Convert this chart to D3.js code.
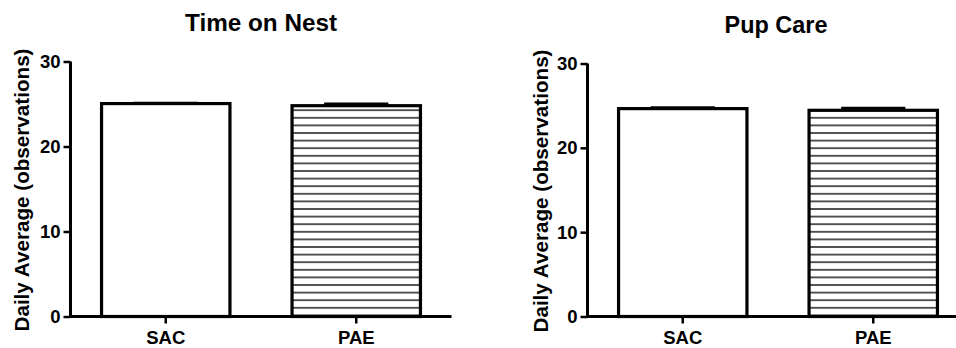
<!DOCTYPE html>
<html>
<head>
<meta charset="utf-8">
<script src="https://cdn.jsdelivr.net/npm/d3@7"></script>
<style>
  body { margin: 0; background: #fff; }
  text { font-family: "Liberation Sans", Arial, Helvetica, sans-serif; font-weight: bold; fill: #000; }
</style>
</head>
<body>
<div id="chart"></div>
<script>
// data
const groups = ["SAC", "PAE"];
const panelTitles = ["Time on Nest", "Pup Care"];
const nestMean = [25.05, 24.8];
const nestSem = [0.05, 0.2];
const careMean = [24.65, 24.45];
const careSem = [0.1, 0.25];
const yTicks = [0, 10, 20, 30];
const yLabel = "Daily Average (observations)";

const W = 956, H = 348;

const svg = d3.select("#chart")
  .append("svg")
  .attr("width", W)
  .attr("height", H);

// horizontal hatch for the PAE bars
const defs = svg.append("defs");
defs.append("pattern")
  .attr("id", "hatch")
  .attr("patternUnits", "userSpaceOnUse")
  .attr("width", 10)
  .attr("height", 7.6)
  .append("line")
  .attr("x1", 0).attr("x2", 10)
  .attr("y1", 3.8).attr("y2", 3.8)
  .attr("stroke", "#444")
  .attr("stroke-width", 1.8);

const panels = [
  { title: panelTitles[0], mean: nestMean, sem: nestSem, x0: 70.5, yTop: 61.5, yBot: 316.5, titleX: 261, titleY: 31, titleW: 152, labelX: 29 },
  { title: panelTitles[1], mean: careMean, sem: careSem, x0: 587.5, yTop: 63.5, yBot: 316.5, titleX: 776, titleY: 33, titleW: 103, labelX: 548 }
];

panels.forEach((p) => {
  const g = svg.append("g");

  const x = d3.scaleBand()
    .domain(groups)
    .range([p.x0, p.x0 + 381])
    .paddingInner(0.326)
    .paddingOuter(0.163);

  const y = d3.scaleLinear().domain([0, 30]).range([p.yBot, p.yTop]);

  // bars
  g.selectAll(".bar")
    .data(groups)
    .enter()
    .append("rect")
    .attr("class", "bar")
    .attr("x", (d) => x(d))
    .attr("y", (d, i) => y(p.mean[i]))
    .attr("width", x.bandwidth())
    .attr("height", (d, i) => p.yBot - y(p.mean[i]))
    .attr("fill", (d, i) => (i === 1 ? "url(#hatch)" : "#fff"))
    .attr("stroke", "#000")
    .attr("stroke-width", 3.2);

  // error bars (upper only)
  const eb = g.selectAll(".err")
    .data(groups)
    .enter()
    .append("g")
    .attr("class", "err");
  eb.append("line")
    .attr("x1", (d) => x(d) + x.bandwidth() / 2)
    .attr("x2", (d) => x(d) + x.bandwidth() / 2)
    .attr("y1", (d, i) => y(p.mean[i]))
    .attr("y2", (d, i) => y(p.mean[i] + p.sem[i]))
    .attr("stroke", "#000")
    .attr("stroke-width", 3);
  eb.append("line")
    .attr("x1", (d) => x(d) + x.bandwidth() / 4)
    .attr("x2", (d) => x(d) + x.bandwidth() * 3 / 4)
    .attr("y1", (d, i) => y(p.mean[i] + p.sem[i]))
    .attr("y2", (d, i) => y(p.mean[i] + p.sem[i]))
    .attr("stroke", "#000")
    .attr("stroke-width", 3);

  // axes
  const yAxis = d3.axisLeft(y).tickValues(yTicks).tickSize(7).tickPadding(3);
  const xAxis = d3.axisBottom(x).tickSize(7).tickPadding(7);

  const ya = g.append("g")
    .attr("transform", `translate(${p.x0}, 0)`)
    .call(yAxis);
  const xa = g.append("g")
    .attr("transform", `translate(0, ${p.yBot})`)
    .call(xAxis);

  [ya, xa].forEach((a) => {
    a.select(".domain").attr("stroke-width", 3);
    a.selectAll(".tick line").attr("stroke-width", 2.5);
    a.selectAll("text").attr("font-size", 18.5).attr("fill", "#000")
      .style("font-family", "'Liberation Sans', Arial, sans-serif").style("font-weight", "bold");
  });
  // axis lines without end ticks
  ya.select(".domain").attr("d", `M0,${p.yTop}V${p.yBot + 1.5}`);
  xa.select(".domain").attr("d", `M${p.x0 - 1.5},0H${p.x0 + 381}`);

  // title
  g.append("text")
    .attr("x", p.titleX)
    .attr("y", p.titleY)
    .attr("text-anchor", "middle")
    .attr("font-size", 23)
    .attr("textLength", p.titleW)
    .attr("lengthAdjust", "spacingAndGlyphs")
    .text(p.title);

  // y label
  g.append("text")
    .attr("transform", `translate(${p.labelX}, ${(p.yTop + p.yBot) / 2 + 1}) rotate(-90)`)
    .attr("text-anchor", "middle")
    .attr("font-size", 20.5)
    .attr("textLength", 283)
    .attr("lengthAdjust", "spacingAndGlyphs")
    .text(yLabel);
});
</script>
</body>
</html>
